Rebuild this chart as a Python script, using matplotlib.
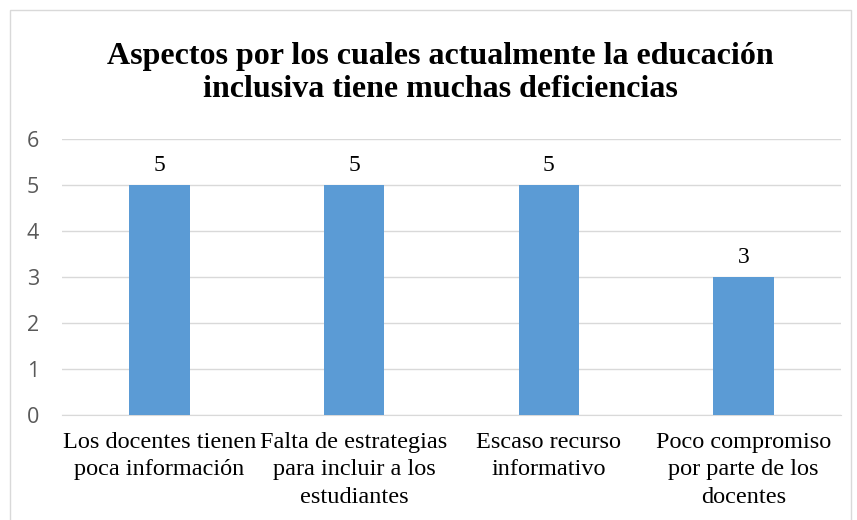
import matplotlib
matplotlib.use("Agg")
import matplotlib.pyplot as plt
from matplotlib.patches import Rectangle

categories = ["Los docentes tienen\npoca información",
              "Falta de estrategias\npara incluir a los\nestudiantes",
              "Escaso recurso\ninformativo",
              "Poco compromiso\npor parte de los\ndocentes"]
values = [5, 5, 5, 3]
yticks = [0, 1, 2, 3, 4, 5, 6]
title = "Aspectos por los cuales actualmente la educación\ninclusiva tiene muchas deficiencias"

serif = ["Liberation Serif", "DejaVu Serif"]
sans = ["Open Sans", "DejaVu Sans"]

fig = plt.figure(figsize=(8.57, 5.2), dpi=100)
ax = fig.add_axes([62/857, 1-415/520, (841-62)/857, (415-139)/520])

x = list(range(len(categories)))
bars = ax.bar(x, values, width=0.31, color="#5B9BD5", zorder=3)
for xi, v in zip(x, values):
    ax.text(xi, v + 0.2, str(v), ha="center", va="bottom", fontsize=17, family=serif, color="#000000")

ax.set_xlim(-0.5, 3.5)
ax.set_ylim(0, 6)
ax.set_yticks(yticks)
ax.set_yticklabels([str(t) for t in yticks], family=sans, fontsize=15.5, color="#595959")
ax.set_xticks(x)
ax.set_xticklabels(categories, family=serif, fontsize=17.5, color="#000000", linespacing=1.42)
ax.tick_params(axis="both", length=0)
ax.tick_params(axis="x", pad=12)
ax.tick_params(axis="y", pad=16.5)
ax.grid(axis="y", color="#D9D9D9", linewidth=1, zorder=0)
for s in ["top", "right", "left"]:
    ax.spines[s].set_visible(False)
ax.spines["bottom"].set_color("#D9D9D9")

fig.text(440/857, 1-73/520, title, ha="center", va="center", fontsize=23, fontweight="bold",
         family=serif, linespacing=1.22)

fig.patches.append(Rectangle((10/857, -0.01), (851-10)/857, 1-10/520+0.01, transform=fig.transFigure,
                             fill=False, edgecolor="#D9D9D9", linewidth=1))

fig.savefig("out.png", dpi=100)
